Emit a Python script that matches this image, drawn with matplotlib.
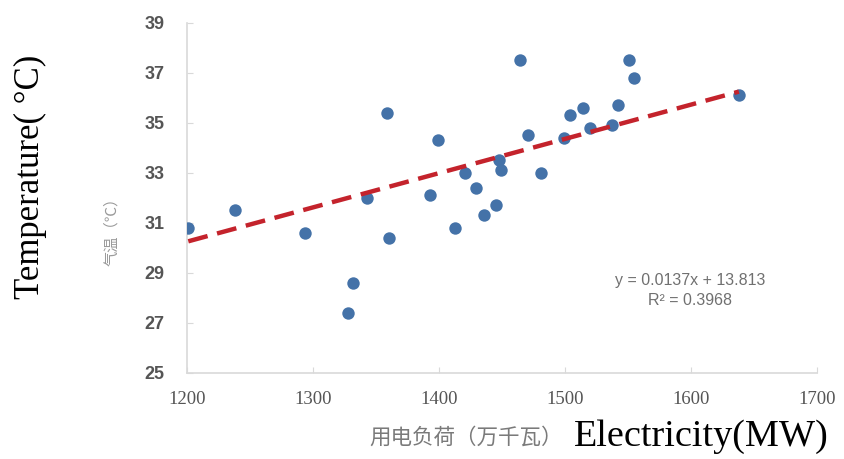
import matplotlib
matplotlib.use("Agg")
import matplotlib.pyplot as plt

# electricity load (10^4 kW) vs temperature (deg C)
load = [1201, 1238, 1294, 1328, 1332, 1343, 1359, 1360, 1393, 1399,
        1413, 1421, 1429, 1436, 1445, 1448, 1449, 1464, 1471, 1481,
        1499, 1504, 1514, 1520, 1537, 1542, 1551, 1555, 1638]
temp = [30.8, 31.5, 30.6, 27.4, 28.6, 32.0, 35.4, 30.4, 32.1, 34.3,
        30.8, 33.0, 32.4, 31.3, 31.7, 33.5, 33.1, 37.5, 34.5, 33.0,
        34.4, 35.3, 35.6, 34.8, 34.9, 35.7, 37.5, 36.8, 36.1]

slope, intercept = 0.0137, 13.813
r2 = 0.3968

x_ticks = [1200, 1300, 1400, 1500, 1600, 1700]
y_ticks = [25, 27, 29, 31, 33, 35, 37, 39]

fig = plt.figure(figsize=(8.44, 4.59), dpi=100)
ax = fig.add_axes([0.2216, 0.1874, 0.968 - 0.2216, 0.950 - 0.1874])

ax.scatter(load, temp, s=80, color="#4472a8", zorder=3, linewidths=0)
xs = [min(load), max(load)]
ax.plot(xs, [slope * v + intercept for v in xs], color="#c4232c",
        lw=3.2, dashes=(4.5, 2.2), zorder=4)

ax.set_xlim(1200, 1700)
ax.set_ylim(25, 39)
ax.set_xticks(x_ticks)
ax.set_yticks(y_ticks)
ax.set_xticklabels([str(v) for v in x_ticks], family="Liberation Serif",
                   fontsize=13.5, color="#555555")
ax.set_yticklabels([str(v) for v in y_ticks], family="Liberation Sans",
                   fontsize=13, fontweight="bold", color="#555555")
ax.tick_params(axis="x", direction="in", length=4, color="#d9d9d9", pad=13)
ax.tick_params(axis="y", direction="in", length=4, color="#d9d9d9", pad=16)
for side in ["top", "right"]:
    ax.spines[side].set_visible(False)
for side in ["left", "bottom"]:
    ax.spines[side].set_color("#d9d9d9")
    ax.spines[side].set_linewidth(1.2)

ax.text(1599, 28.3, f"y = {slope}x + {intercept}\nR² = {r2}",
        ha="center", va="center", fontsize=11.5, color="#707070",
        family="Liberation Sans", linespacing=1.45)

# labels
fig.text(466 / 844, 1 - 438 / 459, "用电负荷（万千瓦）", family="Noto Sans CJK SC",
         fontsize=15.5, color="#7a7a7a", ha="center", va="center")
fig.text(701 / 844, 1 - 437 / 459, "Electricity(MW)", family="Liberation Serif",
         fontsize=27.5, color="black", ha="center", va="center")
fig.text(112 / 844, 1 - 228 / 459, "气温（℃）", family=["Noto Sans CJK SC", "DejaVu Sans"],
         fontsize=11, color="#9a9a9a", ha="center", va="center", rotation=90)
fig.text(30 / 844, 1 - 177 / 459, "Temperature( °C)", family="Liberation Serif",
         fontsize=25, color="black", ha="center", va="center", rotation=90)

fig.savefig("out.png", dpi=100, facecolor="white")
